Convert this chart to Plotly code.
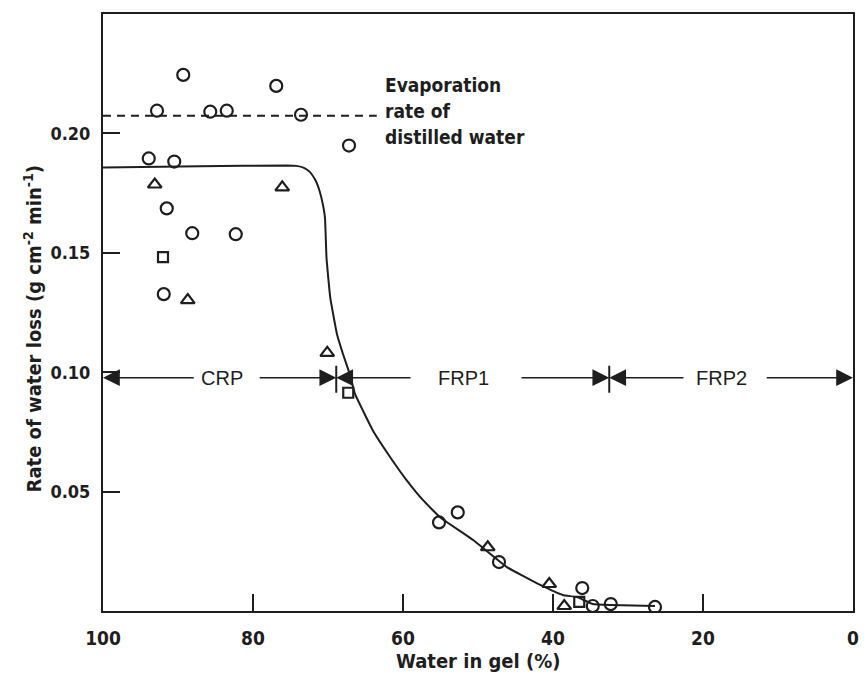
import plotly.graph_objects as go

# ---- data ----
circle_x = [89.3, 76.9, 92.8, 85.7, 83.5, 73.6, 67.2, 93.9, 90.5, 91.5, 88.1, 82.3, 91.9,
            55.2, 52.7, 47.2, 36.1, 34.7, 32.3, 26.4]
circle_y = [0.2245, 0.2199, 0.2095, 0.2091, 0.2095, 0.2078, 0.1949, 0.1895, 0.1882, 0.1686,
            0.1582, 0.1578, 0.1327, 0.0371, 0.0413, 0.0205, 0.0096, 0.0021, 0.0029, 0.0017]

triangle_x = [93.1, 76.1, 88.7, 70.1, 48.7, 40.5, 38.5]
triangle_y = [0.1786, 0.1774, 0.1302, 0.1081, 0.0267, 0.0113, 0.0021]

square_x = [92.0, 67.3, 36.5]
square_y = [0.1482, 0.0914, 0.0038]

curve_x = [100, 87.1, 75.5, 74.2, 73.2, 72.4, 71.7, 71.1, 70.7, 70.4, 70.2, 69.7, 68.8,
           68.0, 67.1, 66.4, 64.0, 61.7, 59.5, 57.3, 55.1, 50.6, 46.2, 41.7, 38.7, 36.8,
           34.7, 32.3, 26.4]
curve_y = [0.1857, 0.1862, 0.1866, 0.1864, 0.1856, 0.1838, 0.1806, 0.1757, 0.1705, 0.1646,
           0.1479, 0.1312, 0.1159, 0.1076, 0.0992, 0.0909, 0.0755, 0.0644, 0.0547, 0.0463,
           0.0394, 0.0296, 0.0185, 0.0109, 0.0067, 0.0058, 0.0029, 0.0025, 0.0021]

evap_x = [100, 63.5]
evap_y = [0.2074, 0.2074]
evap_label = ["Evaporation", "rate of", "distilled water"]

x_ticks = [100, 80, 60, 40, 20, 0]
y_ticks = [0.05, 0.10, 0.15, 0.20]

region_names = ["CRP", "FRP1", "FRP2"]
region_label_x = [84.1, 52.0, 17.6]
region_bounds = [(100, 68.9), (68.9, 32.5), (32.5, 0)]
region_gap_left = [87.7, 58.8, 22.4]
region_gap_right = [79.3, 44.4, 11.7]
region_y = 0.0977
divider_x = [68.9, 32.5]

INK = "#1e1e1e"
FONT = "DejaVu Sans Condensed, DejaVu Sans, sans-serif"

fig = go.Figure()

fig.add_trace(go.Scatter(x=curve_x, y=curve_y, mode="lines",
                         line=dict(color=INK, width=2, shape="spline", smoothing=0.3),
                         showlegend=False, hoverinfo="skip"))
fig.add_trace(go.Scatter(x=evap_x, y=evap_y, mode="lines",
                         line=dict(color=INK, width=1.8, dash="8px,6px"),
                         showlegend=False, hoverinfo="skip"))
fig.add_trace(go.Scatter(x=circle_x, y=circle_y, mode="markers",
                         marker=dict(symbol="circle-open", size=12, color=INK,
                                     line=dict(width=2.2, color=INK)),
                         showlegend=False))
fig.add_trace(go.Scatter(x=triangle_x, y=triangle_y, mode="markers",
                         marker=dict(symbol="triangle-up-open", size=12, color=INK,
                                     line=dict(width=2.2, color=INK)),
                         showlegend=False))
fig.add_trace(go.Scatter(x=square_x, y=square_y, mode="markers",
                         marker=dict(symbol="square-open", size=10, color=INK,
                                     line=dict(width=2.2, color=INK)),
                         showlegend=False))

annotations = []
for i, t in enumerate(evap_label):
    annotations.append(dict(x=62.7, y=0.2095 + (1 - i) * 0.0108, xref="x", yref="y",
                            text="<b>" + t + "</b>", showarrow=False, xanchor="left",
                            yanchor="middle",
                            font=dict(family=FONT, size=19, color=INK)))
for name, lx, (a, b), gl, gr in zip(region_names, region_label_x, region_bounds,
                                     region_gap_left, region_gap_right):
    annotations.append(dict(x=lx, y=region_y, xref="x", yref="y", text=name,
                            showarrow=False, xanchor="center", yanchor="middle",
                            font=dict(family="Liberation Sans, Arial, sans-serif", size=20,
                                      color=INK)))
    annotations.append(dict(x=a, y=region_y, ax=gl, ay=region_y, xref="x", yref="y",
                            axref="x", ayref="y", text="", showarrow=True, arrowhead=2,
                            arrowsize=2.4, arrowwidth=1.4, arrowcolor=INK))
    annotations.append(dict(x=b, y=region_y, ax=gr, ay=region_y, xref="x", yref="y",
                            axref="x", ayref="y", text="", showarrow=True, arrowhead=2,
                            arrowsize=2.4, arrowwidth=1.4, arrowcolor=INK))
annotations.append(dict(x=0.5, y=-0.083, xref="paper", yref="paper",
                        text="<b>Water in gel (%)</b>", showarrow=False,
                        xanchor="center", yanchor="middle",
                        font=dict(family=FONT, size=20, color=INK)))
annotations.append(dict(x=-0.093, y=0.472, xref="paper", yref="paper",
                        text="<b>Rate of water loss (g cm<sup>-2</sup> min<sup>-1</sup>)</b>",
                        showarrow=False, textangle=-90, xanchor="center", yanchor="middle",
                        font=dict(family=FONT, size=20, color=INK)))

shapes = [dict(type="line", xref="x", yref="y", x0=d, x1=d, y0=0.0914, y1=0.1027,
               line=dict(color=INK, width=2)) for d in divider_x]

# page body adds an 8px margin; size the figure so the plot sits where the reference has it
fig.update_layout(
    width=859, height=669,
    margin=dict(l=95, r=14, t=4, b=66),
    paper_bgcolor="white", plot_bgcolor="white",
    annotations=annotations, shapes=shapes,
    xaxis=dict(range=[100, 0], tickvals=x_ticks, ticktext=[str(v) for v in x_ticks],
               ticks="inside", ticklen=17, tickwidth=2, tickcolor=INK,
               showline=True, linecolor=INK, linewidth=2, mirror=True,
               showgrid=False, zeroline=False, ticklabelstandoff=9,
               tickfont=dict(family=FONT, size=19, color=INK, weight="bold")),
    yaxis=dict(range=[0, 0.25], tickvals=y_ticks, ticktext=["0.05", "0.10", "0.15", "0.20"],
               ticks="inside", ticklen=17, tickwidth=2, tickcolor=INK,
               showline=True, linecolor=INK, linewidth=2, mirror=True,
               showgrid=False, zeroline=False, ticklabelstandoff=7,
               tickfont=dict(family=FONT, size=18, color=INK, weight="bold")),
)

fig.write_html("out.html")
